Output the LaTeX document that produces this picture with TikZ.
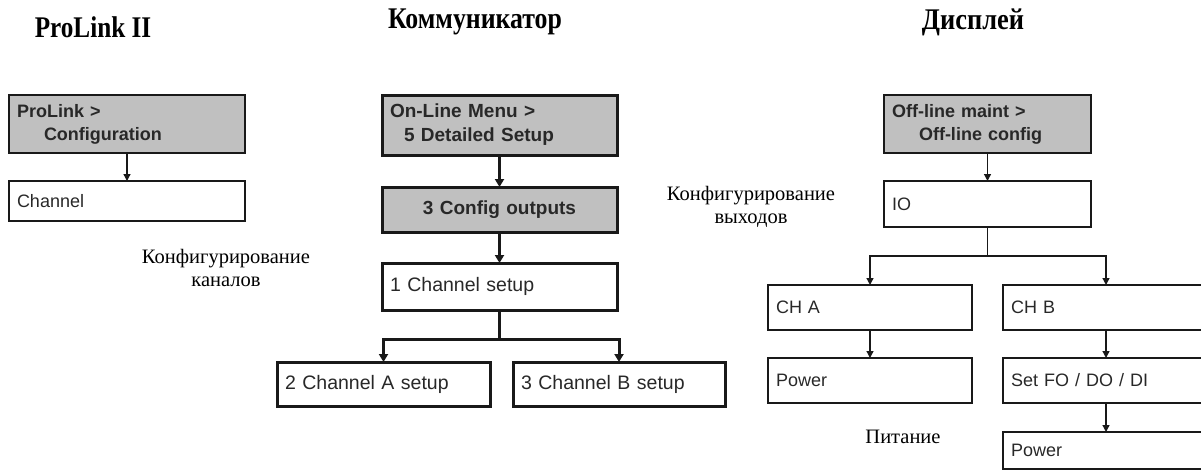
\documentclass[tikz,border=0pt]{standalone}
\usepackage{fontspec}
\usepackage{graphicx}
\setmainfont{Liberation Serif}
\newfontfamily\boxfamily{Liberation Sans}
\usetikzlibrary{arrows.meta, positioning}
\definecolor{Headfill}{RGB}{192, 192, 192}
\definecolor{Boxdraw}{RGB}{25, 25, 25}
\definecolor{Boxtext}{RGB}{40, 40, 40}

\begin{document}
\begin{tikzpicture}[
    x=1pt, y=-1pt,
    menubox/.style={
        rectangle, draw=Boxdraw, line width=1.3pt,
        anchor=north west, outer sep=0pt,
        inner xsep=8pt, inner ysep=0pt, align=left,
        text=Boxtext, font=\boxfamily\fontsize{18}{23}\selectfont
    },
    headbox/.style={
        menubox, fill=Headfill,
        font=\boxfamily\bfseries\fontsize{18}{23}\selectfont
    },
    heavy/.style={line width=3pt},
    bigtext/.style={font=\boxfamily\fontsize{19.5}{24}\selectfont},
    bigbold/.style={font=\boxfamily\bfseries\fontsize{19}{24}\selectfont},
    thinarrow/.style={
        -{Triangle[length=7pt, width=7pt]},
        line width=1.3pt, color=Boxdraw
    },
    thickarrow/.style={
        -{Triangle[length=8pt, width=9pt]},
        line width=3pt, color=Boxdraw
    },
    note/.style={align=center, font=\fontsize{20.5}{23}\selectfont},
    coltitle/.style={font=\bfseries\fontsize{30}{32}\selectfont}
]
    \useasboundingbox (0,0) rectangle (1201,471);

    % ------------------- TITOLI -------------------
    \node[coltitle] (tprolink) at (93, 27) {\scalebox{0.84}[1]{ProLink II}};
    \node[coltitle] (tcomm) at (475, 22) {\scalebox{0.86}[1]{Коммуникатор}};
    \node[coltitle] (tdisp) at (973, 22) {\scalebox{0.88}[1]{Дисплей}};

    % ------------------- ProLink II -------------------
    \node[headbox, text width=220pt, minimum height=58pt] (plhead) at (9, 95)
        {ProLink >\\\hspace*{27pt}Configuration};
    \node[menubox, text width=220pt, minimum height=40pt] (plchan) at (9, 181) {Channel};
    \draw[thinarrow] (plhead) -- (plchan);

    \node[note] (lchan) at (226, 268) {Конфигурирование\\каналов};

    % ------------------- Коммуникатор -------------------
    \node[headbox, heavy, bigbold, text width=219pt, minimum height=60pt] (olmenu) at (382, 95)
        {On-Line Menu >\\\hspace*{14pt}5 Detailed Setup};
    \node[headbox, heavy, bigbold, text width=219pt, minimum height=45pt, align=center] (cfgout) at (382, 187)
        {3 Config outputs};
    \node[menubox, heavy, bigtext, text width=219pt, minimum height=47pt] (chsetup) at (382, 263)
        {1 Channel setup};
    \node[menubox, heavy, bigtext, text width=197pt, minimum height=44pt] (chasetup) at (277, 362)
        {2 Channel A setup};
    \node[menubox, heavy, bigtext, text width=196pt, minimum height=44pt] (chbsetup) at (513, 362)
        {3 Channel B setup};
    \coordinate (mfork) at (499.5, 339);

    \draw[thickarrow] (olmenu) -- (cfgout);
    \draw[thickarrow] (cfgout) -- (chsetup);
    \draw[heavy, Boxdraw] (chsetup) -- (mfork);
    \draw[thickarrow] (mfork) -| (chasetup);
    \draw[thickarrow] (mfork) -| (chbsetup);

    % ------------------- Дисплей -------------------
    \node[headbox, text width=191pt, minimum height=58pt] (offmaint) at (884, 95)
        {Off-line maint >\\\hspace*{27pt}Off-line config};
    \node[menubox, text width=191pt, minimum height=46pt] (io) at (884, 181) {IO};
    \node[menubox, text width=188pt, minimum height=45pt] (cha) at (768, 285) {CH A};
    \node[menubox, text width=190pt, minimum height=45pt] (chb) at (1003, 285) {CH B};
    \node[menubox, text width=188pt, minimum height=45pt] (pwra) at (768, 358) {Power};
    \node[menubox, text width=190pt, minimum height=45pt] (setfo) at (1003, 358) {Set FO / DO / DI};
    \node[menubox, text width=190pt, minimum height=37pt] (pwrb) at (1003, 432) {Power};
    \coordinate (rfork) at (987.5, 256);

    \draw[thinarrow] (offmaint) -- (io);
    \draw[line width=1.3pt, Boxdraw] (io) -- (rfork);
    \draw[thinarrow] (rfork) -| (cha);
    \draw[thinarrow] (rfork) -| (chb);
    \draw[thinarrow] (cha) -- (pwra);
    \draw[thinarrow] (chb) -- (setfo);
    \draw[thinarrow] (setfo) -- (pwrb);

    \node[note] (lout) at (751, 207) {Конфигурирование\\выходов};
    \node[note] (lpower) at (903, 437) {Питание};
\end{tikzpicture}
\end{document}
